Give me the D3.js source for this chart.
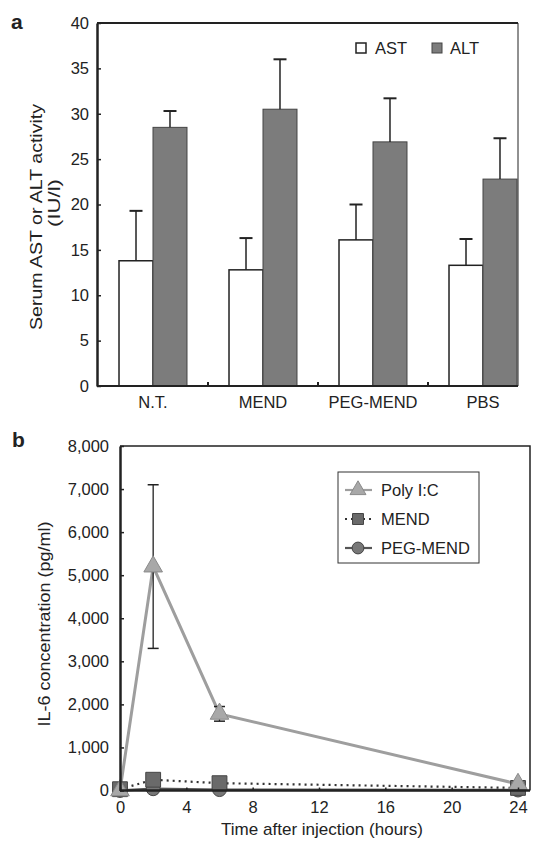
<!DOCTYPE html>
<html>
<head>
<meta charset="utf-8">
<script src="https://cdn.jsdelivr.net/npm/d3@7"></script>
<style>
  html, body { margin: 0; padding: 0; background: #fff; }
  svg { display: block; }
  text { font-family: "Liberation Sans", Arial, sans-serif; fill: #222; }
</style>
</head>
<body>
<svg id="chart" width="536" height="842"></svg>
<script>
// ---------- Panel a data ----------
const categories = ["N.T.", "MEND", "PEG-MEND", "PBS"];
const astMean = [13.8, 12.8, 16.1, 13.3];
const astErr  = [5.5, 3.5, 3.9, 2.9];
const altMean = [28.5, 30.5, 26.9, 22.8];
const altErr  = [1.8, 5.5, 4.8, 4.5];
const yTicksA = [0, 5, 10, 15, 20, 25, 30, 35, 40];

// ---------- Panel b data ----------
const times   = [0, 2, 6, 24];
const polyIC  = [0, 5200, 1780, 150];
const polyErr = [0, 1900, 170, 0];
const mend    = [30, 250, 170, 60];
const pegMend = [0, 40, 20, 10];
const yTicksB = [0, 1000, 2000, 3000, 4000, 5000, 6000, 7000, 8000];
const xTicksB = [0, 4, 8, 12, 16, 20, 24];

const svg = d3.select("#chart");
const ink = "#222";

// ================= PANEL A =================
const A = { left: 97, top: 23, right: 518, bottom: 386 };
const xA = d3.scaleBand().domain(categories).range([98, 538])
  .paddingInner(0.382).paddingOuter(0.191);
const xInner = d3.scaleBand().domain(["AST", "ALT"]).range([0, xA.bandwidth()]);
const yA = d3.scaleLinear().domain([0, 40]).range([A.bottom, A.top]);

const gA = svg.append("g");

// bars
categories.forEach((c, i) => {
  const gx = xA(c);
  gA.append("rect")
    .attr("x", gx + xInner("AST")).attr("y", yA(astMean[i]))
    .attr("width", xInner.bandwidth()).attr("height", yA(0) - yA(astMean[i]))
    .attr("fill", "#fff").attr("stroke", ink).attr("stroke-width", 1.5);
  gA.append("rect")
    .attr("x", gx + xInner("ALT")).attr("y", yA(altMean[i]))
    .attr("width", xInner.bandwidth()).attr("height", yA(0) - yA(altMean[i]))
    .attr("fill", "#7c7c7c").attr("stroke", "#444").attr("stroke-width", 1);
  [[ "AST", astMean[i], astErr[i] ], [ "ALT", altMean[i], altErr[i] ]].forEach(([k, m, e]) => {
    const cx = gx + xInner(k) + xInner.bandwidth() / 2;
    gA.append("line").attr("x1", cx).attr("x2", cx)
      .attr("y1", yA(m)).attr("y2", yA(m + e))
      .attr("stroke", ink).attr("stroke-width", 1.5);
    gA.append("line").attr("x1", cx - 6.5).attr("x2", cx + 6.5)
      .attr("y1", yA(m + e)).attr("y2", yA(m + e))
      .attr("stroke", ink).attr("stroke-width", 2);
  });
});

// frame top / right
gA.append("line").attr("x1", A.left).attr("x2", A.right).attr("y1", A.top).attr("y2", A.top)
  .attr("stroke", ink).attr("stroke-width", 2);
gA.append("line").attr("x1", A.right).attr("x2", A.right).attr("y1", A.top).attr("y2", A.bottom)
  .attr("stroke", ink).attr("stroke-width", 1);

// y axis
const yAxisA = d3.axisLeft(yA).tickValues(yTicksA).tickSizeInner(-4).tickSizeOuter(0).tickPadding(8);
const gyA = gA.append("g").attr("transform", `translate(${A.left},0)`).call(yAxisA);
gyA.select(".domain").attr("stroke", ink).attr("stroke-width", 2.5);
gyA.selectAll(".tick line").attr("stroke", ink).attr("stroke-width", 1.5);
gyA.selectAll(".tick text").attr("font-size", 16.5).attr("fill", ink)
  .attr("font-family", '"Liberation Sans", Arial, sans-serif');

// x axis
const xAxisA = d3.axisBottom(xA).tickSize(0).tickPadding(10);
const gxA = gA.append("g").attr("transform", `translate(0,${A.bottom})`).call(xAxisA);
gxA.select(".domain").remove();
gA.append("line").attr("x1", A.left).attr("x2", A.right).attr("y1", A.bottom).attr("y2", A.bottom)
  .attr("stroke", ink).attr("stroke-width", 2);
gxA.selectAll(".tick text").attr("font-size", 16.5).attr("fill", ink)
  .attr("font-family", '"Liberation Sans", Arial, sans-serif');
categories.slice(0, -1).forEach(c => {
  const bx = xA(c) + xA.bandwidth() + xA.step() * xA.paddingInner() / 2;
  gA.append("line").attr("x1", bx).attr("x2", bx).attr("y1", A.bottom).attr("y2", A.bottom - 4)
    .attr("stroke", ink).attr("stroke-width", 2);
});

// y label
gA.append("text").attr("transform", "translate(42,217) rotate(-90)")
  .attr("text-anchor", "middle").attr("font-size", 17)
  .attr("textLength", 226).attr("lengthAdjust", "spacingAndGlyphs")
  .text("Serum AST or ALT activity");
gA.append("text").attr("transform", "translate(60,203) rotate(-90)")
  .attr("text-anchor", "middle").attr("font-size", 17)
  .attr("textLength", 48).attr("lengthAdjust", "spacingAndGlyphs")
  .text("(IU/l)");

// legend a
gA.append("rect").attr("x", 356).attr("y", 43).attr("width", 10).attr("height", 10)
  .attr("fill", "#fff").attr("stroke", ink).attr("stroke-width", 1.5);
gA.append("text").attr("x", 375).attr("y", 54).attr("font-size", 16.5).text("AST");
gA.append("rect").attr("x", 432).attr("y", 43).attr("width", 10).attr("height", 10)
  .attr("fill", "#7c7c7c").attr("stroke", "#444").attr("stroke-width", 1);
gA.append("text").attr("x", 450).attr("y", 54).attr("font-size", 16.5).text("ALT");

svg.append("text").attr("x", 11).attr("y", 29).attr("font-size", 21).attr("font-weight", "bold").text("a");

// ================= PANEL B =================
const B = { left: 120, top: 446, right: 530, bottom: 790.5 };
const xB = d3.scaleLinear().domain([0, 24]).range([120, 518]);
const yB = d3.scaleLinear().domain([0, 8000]).range([B.bottom, B.top]);
const gB = svg.append("g");

gB.append("path")
  .attr("d", `M${B.left},${B.top}H${B.right}V${B.bottom}`)
  .attr("fill", "none").attr("stroke", ink).attr("stroke-width", 1.5);

const lineGen = vals => d3.line().x((d, i) => xB(times[i])).y(d => yB(d))(vals);

gB.append("path").attr("d", lineGen(pegMend)).attr("fill", "none")
  .attr("stroke", "#555").attr("stroke-width", 2.5);
gB.append("path").attr("d", lineGen(mend)).attr("fill", "none")
  .attr("stroke", "#333").attr("stroke-width", 2.2).attr("stroke-dasharray", "2,4");
gB.append("path").attr("d", lineGen(polyIC)).attr("fill", "none")
  .attr("stroke", "#9e9e9e").attr("stroke-width", 3);

times.forEach((t, i) => {
  if (!polyErr[i]) return;
  const cx = xB(t);
  const lo = polyIC[i] - polyErr[i], hi = polyIC[i] + polyErr[i];
  gB.append("line").attr("x1", cx).attr("x2", cx).attr("y1", yB(lo)).attr("y2", yB(hi))
    .attr("stroke", ink).attr("stroke-width", 1.3);
  [lo, hi].forEach(v => gB.append("line").attr("x1", cx - 5.5).attr("x2", cx + 5.5)
    .attr("y1", yB(v)).attr("y2", yB(v)).attr("stroke", ink).attr("stroke-width", 1.5));
});

const sym = (type, size) => d3.symbol().type(type).size(size)();
pegMend.forEach((v, i) => gB.append("path").attr("d", sym(d3.symbolCircle, 150))
  .attr("transform", `translate(${xB(times[i])},${yB(v)})`)
  .attr("fill", "#777").attr("stroke", "#444").attr("stroke-width", 1));
mend.forEach((v, i) => gB.append("path").attr("d", sym(d3.symbolSquare, 220))
  .attr("transform", `translate(${xB(times[i])},${yB(v)})`)
  .attr("fill", "#6a6a6a").attr("stroke", "#444").attr("stroke-width", 1));
polyIC.forEach((v, i) => gB.append("path").attr("d", sym(d3.symbolTriangle, 150))
  .attr("transform", `translate(${xB(times[i])},${yB(v)})`)
  .attr("fill", "#a8a8a8").attr("stroke", "#8a8a8a").attr("stroke-width", 1));

const yAxisB = d3.axisLeft(yB).tickValues(yTicksB).tickFormat(d3.format(","))
  .tickSizeInner(-4).tickSizeOuter(0).tickPadding(11);
const gyB = gB.append("g").attr("transform", `translate(${B.left},0)`).call(yAxisB);
gyB.select(".domain").attr("stroke", ink).attr("stroke-width", 2.5);
gyB.selectAll(".tick line").attr("stroke", ink).attr("stroke-width", 1.5);
gyB.selectAll(".tick text").attr("font-size", 16.5).attr("fill", ink)
  .attr("font-family", '"Liberation Sans", Arial, sans-serif');

const xAxisB = d3.axisBottom(xB).tickValues(xTicksB).tickSizeInner(-3).tickSizeOuter(0).tickPadding(11);
const gxB = gB.append("g").attr("transform", `translate(0,${B.bottom})`).call(xAxisB);
gxB.select(".domain").attr("d", `M${B.left},0H${B.right}`).attr("stroke", ink).attr("stroke-width", 2.5);
gxB.selectAll(".tick line").attr("stroke", ink).attr("stroke-width", 1.5);
gxB.selectAll(".tick text").attr("font-size", 16.5).attr("fill", ink)
  .attr("font-family", '"Liberation Sans", Arial, sans-serif');

gB.append("text").attr("x", 322).attr("y", 835).attr("text-anchor", "middle")
  .attr("font-size", 17).attr("textLength", 202).attr("lengthAdjust", "spacingAndGlyphs")
  .text("Time after injection (hours)");
gB.append("text").attr("transform", "translate(50,624) rotate(-90)")
  .attr("text-anchor", "middle").attr("font-size", 17)
  .attr("textLength", 205).attr("lengthAdjust", "spacingAndGlyphs")
  .text("IL-6 concentration (pg/ml)");

const leg = gB.append("g");
leg.append("rect").attr("x", 338).attr("y", 472).attr("width", 141).attr("height", 91)
  .attr("fill", "#fff").attr("stroke", "#333").attr("stroke-width", 1);
const legItems = [
  { name: "Poly I:C", y: 490, type: d3.symbolTriangle, size: 110, fill: "#a8a8a8", stroke: "#8a8a8a", lc: "#9e9e9e", dash: null },
  { name: "MEND", y: 519, type: d3.symbolSquare, size: 120, fill: "#6a6a6a", stroke: "#444", lc: "#333", dash: "2,4" },
  { name: "PEG-MEND", y: 548, type: d3.symbolCircle, size: 110, fill: "#777", stroke: "#444", lc: "#555", dash: null }
];
legItems.forEach(it => {
  leg.append("line").attr("x1", 345).attr("x2", 372).attr("y1", it.y).attr("y2", it.y)
    .attr("stroke", it.lc).attr("stroke-width", 2.2).attr("stroke-dasharray", it.dash);
  leg.append("path").attr("d", sym(it.type, it.size)).attr("transform", `translate(358,${it.y})`)
    .attr("fill", it.fill).attr("stroke", it.stroke).attr("stroke-width", 1);
  leg.append("text").attr("x", 381).attr("y", it.y + 6).attr("font-size", 16.5).text(it.name);
});

svg.append("text").attr("x", 12).attr("y", 447).attr("font-size", 21).attr("font-weight", "bold").text("b");
</script>
</body>
</html>
